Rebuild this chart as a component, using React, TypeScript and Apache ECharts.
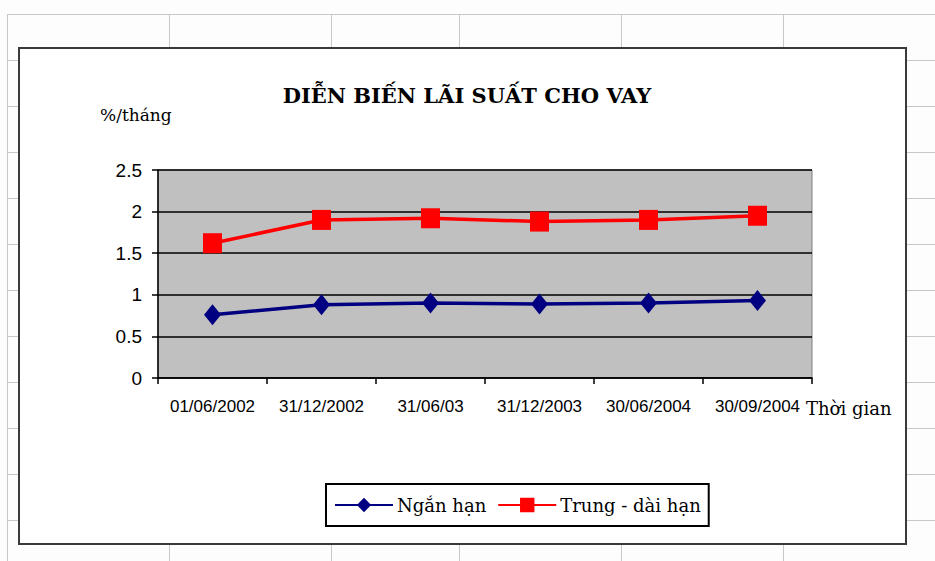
import React, { useEffect, useRef } from "react";
import * as echarts from "echarts";

const categories = ["01/06/2002", "31/12/2002", "31/06/03", "31/12/2003", "30/06/2004", "30/09/2004"];
const shortTerm = [0.76, 0.88, 0.9, 0.89, 0.9, 0.93];
const longTerm = [1.62, 1.9, 1.92, 1.88, 1.9, 1.95];
const seriesNames = ["Ngắn hạn", "Trung - dài hạn"];
const titleText = "DIỄN BIẾN LÃI SUẤT CHO VAY";
const yName = "%/tháng";
const xName = "Thời gian";

const sheetRows = [14, 60, 106, 152, 198, 244, 290, 336, 382, 428, 474, 520];
const sheetCols = [7, 169, 331, 459, 621, 783];

export default function App() {
  const ref = useRef<HTMLDivElement>(null);
  useEffect(() => {
    if (!ref.current) return;
    const chart = echarts.init(ref.current, undefined, { renderer: "svg" });
    const sheet: any[] = [];
    sheetRows.forEach((y) =>
      sheet.push({ type: "line", z: -20, shape: { x1: 7, y1: y + 0.5, x2: 935, y2: y + 0.5 }, style: { stroke: "#c8c8c8", lineWidth: 1 } })
    );
    sheetCols.forEach((x) =>
      sheet.push({ type: "line", z: -20, shape: { x1: x + 0.5, y1: 14, x2: x + 0.5, y2: 561 }, style: { stroke: "#c8c8c8", lineWidth: 1 } })
    );
    const serif = "'DejaVu Serif', serif";
    const sans = "'Liberation Sans', Arial, sans-serif";
    chart.setOption({
      animation: false,
      backgroundColor: "#fdfdfd",
      title: {
        text: titleText,
        left: 462,
        textAlign: "center",
        top: 80,
        textStyle: { fontFamily: serif, fontWeight: "bold", fontSize: 21, color: "#000" },
      },
      graphic: [
        ...sheet,
        { type: "rect", z: -10, shape: { x: 19, y: 48, width: 887, height: 496 }, style: { fill: "#ffffff", stroke: "#3a3a3a", lineWidth: 2 } },
        { type: "text", z: 10, x: 100, y: 115, style: { text: yName, font: `17px ${serif}`, fill: "#000", verticalAlign: "middle", align: "left" } },
        { type: "text", z: 10, x: 806, y: 408, style: { text: xName, font: `18px ${serif}`, fill: "#000", verticalAlign: "middle", align: "left" } },
      ],
      legend: {
        left: 326,
        top: 484,
        orient: "horizontal",
        data: seriesNames,
        backgroundColor: "#ffffff",
        borderColor: "#000",
        borderWidth: 2,
        padding: [12, 8],
        itemWidth: 58,
        itemHeight: 18,
        itemGap: 11,
        textStyle: { fontFamily: serif, fontSize: 18, color: "#000", padding: [0, 0, 0, -1] },
      },
      grid: {
        left: 158,
        top: 170,
        right: 123,
        bottom: 183,
        show: true,
        backgroundColor: "#c0c0c0",
        borderColor: "#808080",
        borderWidth: 1,
      },
      xAxis: {
        type: "category",
        data: categories,
        boundaryGap: true,
        axisLine: { lineStyle: { color: "#000", width: 1.5 } },
        axisTick: { show: true, length: 6, interval: 0, lineStyle: { color: "#000", width: 1.5 } },
        axisLabel: { interval: 0, margin: 20, fontFamily: sans, fontSize: 17, color: "#000" },
      },
      yAxis: {
        type: "value",
        min: 0,
        max: 2.5,
        interval: 0.5,
        axisLine: { show: true, lineStyle: { color: "#000", width: 1.5 } },
        axisTick: { show: true, length: 6, lineStyle: { color: "#000", width: 1.5 } },
        axisLabel: { margin: 16, fontFamily: sans, fontSize: 19, color: "#000", formatter: (v: number) => String(v) },
        splitLine: { show: true, lineStyle: { color: "#000", width: 1.5 } },
      },
      series: [
        {
          name: seriesNames[0],
          type: "line",
          data: shortTerm,
          symbol: "diamond",
          symbolSize: [17, 21],
          lineStyle: { color: "#000080", width: 3.5 },
          itemStyle: { color: "#000080" },
        },
        {
          name: seriesNames[1],
          type: "line",
          data: longTerm,
          symbol: "rect",
          symbolSize: [19, 20],
          lineStyle: { color: "#ff0000", width: 3.5 },
          itemStyle: { color: "#ff0000" },
        },
      ],
    });
    return () => chart.dispose();
  }, []);
  return <div ref={ref} style={{ position: "fixed", left: 0, top: 0, width: 935, height: 561 }} />;
}
